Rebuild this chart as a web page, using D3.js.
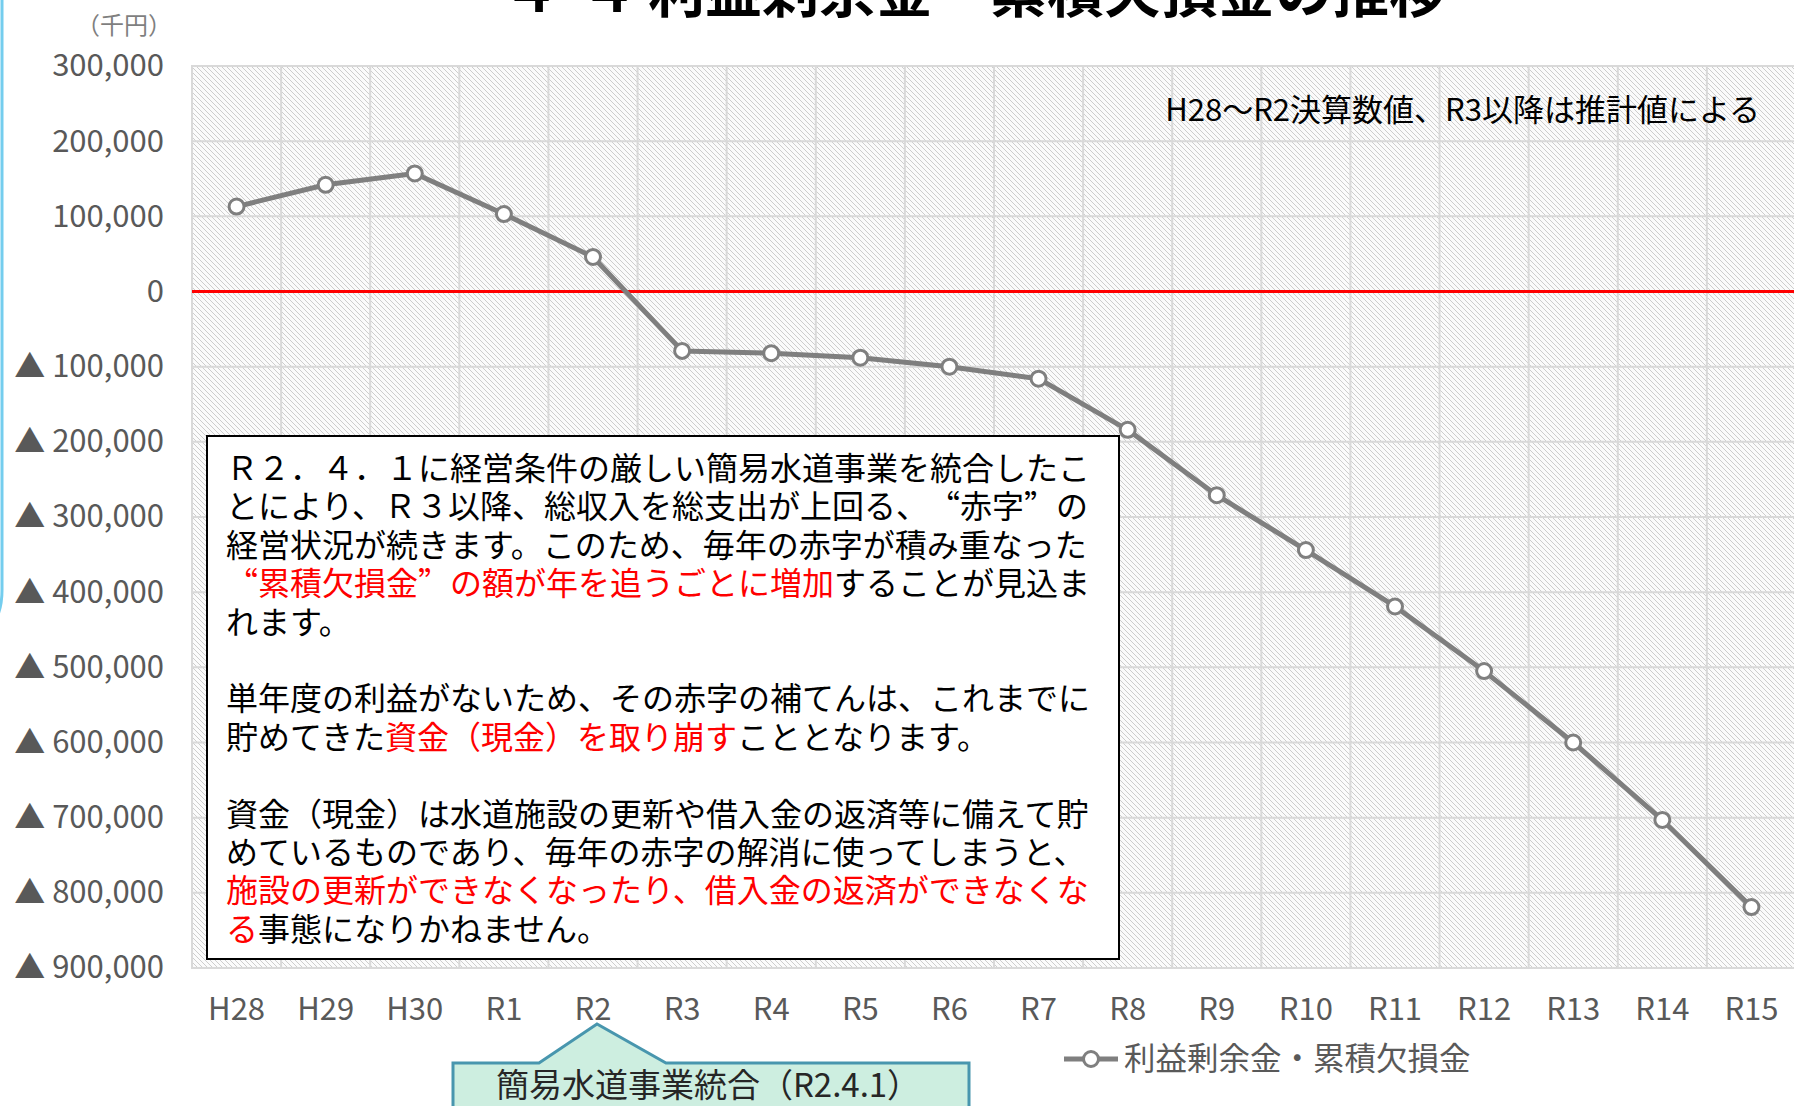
<!DOCTYPE html>
<html>
<head>
<meta charset="utf-8">
<script src="https://cdn.jsdelivr.net/npm/d3@7"></script>
<style>
  body { margin: 0; background: #fff; }
  svg { display: block; font-family: "Noto Sans CJK JP", "Noto Sans", sans-serif; }
  .note { font-feature-settings: "fwid"; }
</style>
</head>
<body>
<svg id="svg" width="1794" height="1106"></svg>
<script>
let years = ["H28", "H29", "H30", "R1", "R2", "R3", "R4", "R5", "R6", "R7",
  "R8", "R9", "R10", "R11", "R12", "R13", "R14", "R15"];
let surplus = [113000, 142000, 157000, 103000, 46000, -79000, -82000, -88000, -100000, -116000,
  -184000, -271000, -344000, -419000, -505000, -600000, -703000, -819000];
let yTicks = [300000, 200000, 100000, 0, -100000, -200000, -300000, -400000,
  -500000, -600000, -700000, -800000, -900000];

let noteLines = [
  [["Ｒ２．４．１に経営条件の厳しい簡易水道事業を統合したこ", 0]],
  [["とにより、Ｒ３以降、総収入を総支出が上回る、“赤字”の", 0]],
  [["経営状況が続きます。このため、毎年の赤字が積み重なった", 0]],
  [["“累積欠損金”の額が年を追うごとに増加", 1], ["することが見込ま", 0]],
  [["れます。", 0]],
  [],
  [["単年度の利益がないため、その赤字の補てんは、これまでに", 0]],
  [["貯めてきた", 0], ["資金（現金）を取り崩す", 1], ["こととなります。", 0]],
  [],
  [["資金（現金）は水道施設の更新や借入金の返済等に備えて貯", 0]],
  [["めているものであり、毎年の赤字の解消に使ってしまうと、", 0]],
  [["施設の更新ができなくなったり、借入金の返済ができなくな", 1]],
  [["る", 1], ["事態になりかねません。", 0]]
];

let svg = d3.select("#svg");

/* hatch pattern for plot area */
let defs = svg.append("defs");
let pat = defs.append("pattern")
  .attr("id", "hatch")
  .attr("patternUnits", "userSpaceOnUse")
  .attr("width", 5)
  .attr("height", 5);
pat.append("rect").attr("width", 5).attr("height", 5).attr("fill", "#fbfbfb");
pat.append("path")
  .attr("d", "M0,0 L5,5 M-1,4 L1,6 M4,-1 L6,1")
  .attr("stroke", "#cdcdcd")
  .attr("stroke-width", 1);

let pL = 192, pR = 1796, pT = 66, pB = 968;

let x = d3.scaleBand().domain(years).range([pL, pR]);
let y = d3.scaleLinear().domain([-900000, 300000]).range([pB, pT]);

/* slide edge on the left */
svg.append("path")
  .attr("d", "M2,0 L2,590 Q2,630 -30,640")
  .attr("fill", "none")
  .attr("stroke", "#74cdee")
  .attr("stroke-width", 3);

/* title (cut off at top, as in the slide) */
svg.append("text")
  .attr("x", 570)
  .attr("y", 12)
  .attr("text-anchor", "middle")
  .attr("font-size", 57)
  .attr("font-weight", "bold")
  .attr("fill", "#000")
  .text("４-４");
svg.append("text")
  .attr("x", 648)
  .attr("y", 12)
  .attr("font-size", 57)
  .attr("font-weight", "bold")
  .attr("fill", "#000")
  .text("利益剰余金・累積欠損金の推移");

/* plot background */
svg.append("rect")
  .attr("x", pL).attr("y", pT)
  .attr("width", pR - pL).attr("height", pB - pT)
  .attr("fill", "url(#hatch)")
  .attr("stroke", "#d9d9d9")
  .attr("stroke-width", 2);

/* gridlines */
svg.append("g").selectAll("line")
  .data(yTicks)
  .join("line")
  .attr("x1", pL).attr("x2", pR)
  .attr("y1", d => y(d)).attr("y2", d => y(d))
  .attr("stroke", "#d9d9d9")
  .attr("stroke-width", 2);

svg.append("g").selectAll("line")
  .data(years.slice(1))
  .join("line")
  .attr("x1", d => x(d)).attr("x2", d => x(d))
  .attr("y1", pT).attr("y2", pB)
  .attr("stroke", "#d9d9d9")
  .attr("stroke-width", 2);

/* zero line */
svg.append("line")
  .attr("x1", pL).attr("x2", pR)
  .attr("y1", y(0)).attr("y2", y(0))
  .attr("stroke", "#ff0000")
  .attr("stroke-width", 3);

/* y axis */
let fmt = d3.format(",");
let yAxis = svg.append("g")
  .attr("transform", `translate(${pL},0)`)
  .call(d3.axisLeft(y).tickValues(yTicks).tickSize(0).tickPadding(28)
    .tickFormat(d => d < 0 ? "▲ " + fmt(-d) : fmt(d)));
yAxis.select(".domain").remove();
yAxis.selectAll("text")
  .attr("font-family", "'Noto Sans CJK JP', sans-serif")
  .attr("font-size", 31)
  .attr("fill", "#595959");

/* x axis */
let xAxis = svg.append("g")
  .attr("transform", `translate(0,${pB})`)
  .call(d3.axisBottom(x).tickSize(0).tickPadding(0));
xAxis.select(".domain").remove();
xAxis.selectAll("text")
  .attr("y", 52)
  .attr("dy", null)
  .attr("font-family", "'Noto Sans CJK JP', sans-serif")
  .attr("font-size", 31)
  .attr("fill", "#595959");

/* unit label */
svg.append("text")
  .attr("x", 172).attr("y", 34)
  .attr("text-anchor", "end")
  .attr("font-size", 24)
  .attr("fill", "#7f7f7f")
  .text("（千円）");

/* source note */
svg.append("text")
  .attr("x", 1760).attr("y", 121)
  .attr("text-anchor", "end")
  .attr("font-size", 31)
  .attr("fill", "#000")
  .text("H28〜R2決算数値、R3以降は推計値による");

/* data line */
let line = d3.line()
  .x((d, i) => x(years[i]) + x.bandwidth() / 2)
  .y(d => y(d));

svg.append("path")
  .datum(surplus)
  .attr("d", line)
  .attr("fill", "none")
  .attr("stroke", "#7f7f7f")
  .attr("stroke-width", 5)
  .attr("stroke-linejoin", "round");

svg.append("g").selectAll("circle")
  .data(surplus)
  .join("circle")
  .attr("cx", (d, i) => x(years[i]) + x.bandwidth() / 2)
  .attr("cy", d => y(d))
  .attr("r", 7.5)
  .attr("fill", "#fff")
  .attr("stroke", "#7f7f7f")
  .attr("stroke-width", 3);

/* note box */
svg.append("rect")
  .attr("x", 207).attr("y", 436)
  .attr("width", 912).attr("height", 523)
  .attr("fill", "#fff")
  .attr("stroke", "#000")
  .attr("stroke-width", 2);

let note = svg.append("g").attr("class", "note");
noteLines.forEach((parts, i) => {
  let cx = 226;
  parts.forEach(([s, red]) => {
    let t = note.append("text")
      .attr("x", cx).attr("y", 480 + i * 38.4)
      .attr("font-size", 32)
      .attr("fill", red ? "#ff0000" : "#000")
      .text(s);
    cx += t.node().getComputedTextLength();
  });
});

/* legend */
let lg = svg.append("g");
lg.append("line")
  .attr("x1", 1064).attr("x2", 1118)
  .attr("y1", 1059).attr("y2", 1059)
  .attr("stroke", "#7f7f7f").attr("stroke-width", 5);
lg.append("circle")
  .attr("cx", 1091).attr("cy", 1059).attr("r", 7.5)
  .attr("fill", "#fff").attr("stroke", "#7f7f7f").attr("stroke-width", 3);
lg.append("text")
  .attr("x", 1124).attr("y", 1070)
  .attr("font-size", 31.5)
  .attr("fill", "#595959")
  .text("利益剰余金・累積欠損金");

/* merger callout */
let r2 = x("R2") + x.bandwidth() / 2 + 4;
svg.append("path")
  .attr("d", `M453,1063 L539,1063 L${r2},1024 L666,1063 L969,1063 L969,1112 L453,1112 Z`)
  .attr("fill", "#cdeee0")
  .attr("stroke", "#4896ae")
  .attr("stroke-width", 3);
svg.append("text")
  .attr("x", 708).attr("y", 1097)
  .attr("text-anchor", "middle")
  .attr("font-size", 33)
  .attr("fill", "#262626")
  .text("簡易水道事業統合（R2.4.1）");
</script>
</body>
</html>
